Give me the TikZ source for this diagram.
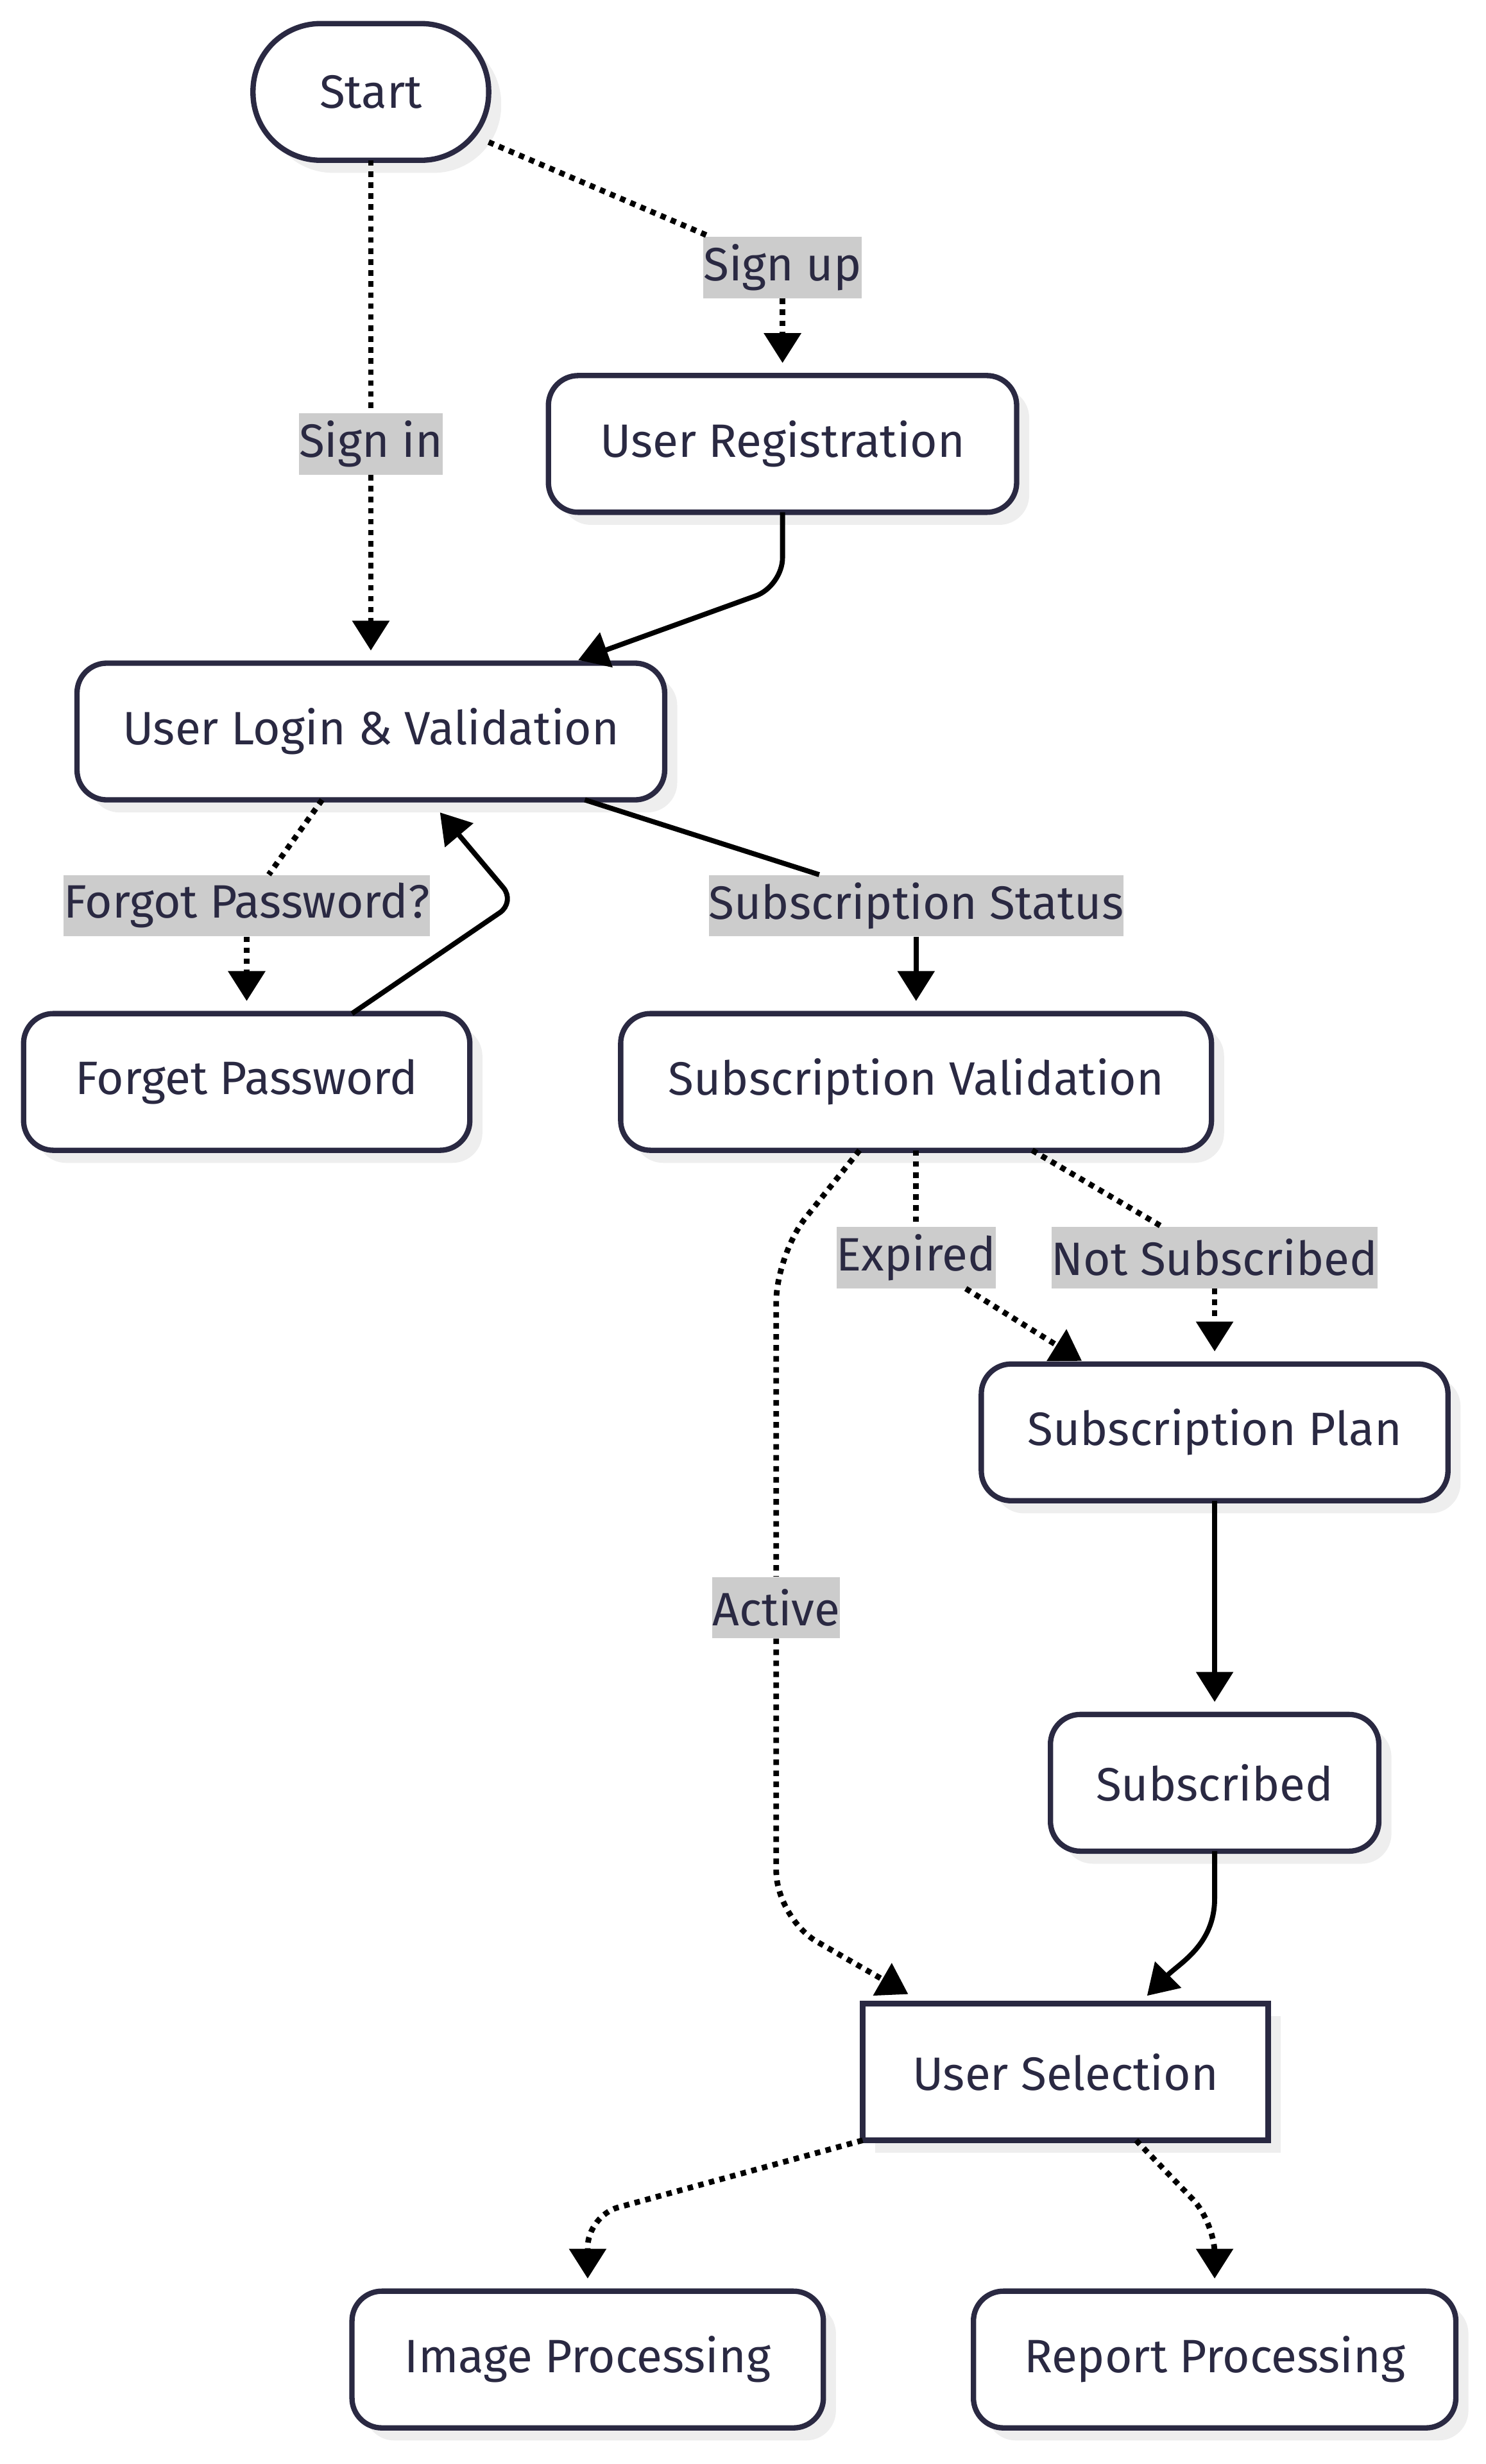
\documentclass[tikz,border=0pt]{standalone}
\usepackage{fontspec}
\setmainfont{Fira Sans}
\usetikzlibrary{positioning,calc,shadows,arrows.meta}

\definecolor{ink}{HTML}{2A2942}
\definecolor{lblgray}{HTML}{CCCCCC}
\definecolor{shade}{HTML}{EEEEEE}
\newcommand{\flowfont}{\fontsize{29.8}{36}\selectfont}

\tikzset{
  base/.style={draw=ink, line width=3.4pt, fill=white, text=ink, outer sep=0pt,
    minimum height=87pt, font=\flowfont,
    drop shadow={shadow xshift=8pt, shadow yshift=-8pt, fill=shade, opacity=1}},
  proc/.style={base, rounded corners=19pt},
  term/.style={base, rounded corners=43pt},
  pick/.style={base},
  lbl/.style={fill=lblgray, text=ink, font=\flowfont, inner xsep=0pt, inner ysep=0pt, minimum height=39pt},
  solidl/.style={black, line width=3.2pt},
  dotl/.style={black, line width=3.6pt, dash pattern=on 3.5pt off 3.5pt},
}

\begin{document}
\begin{tikzpicture}[>={Triangle[length=19pt,width=23pt]}]
    \useasboundingbox (0,0) rectangle (945.3pt,-1568pt);

    \node [term, minimum width=150pt] (start) at (236pt,-58.5pt) {Start};
    \node [proc, minimum width=298pt, below=137pt of start, xshift=262pt] (reg) {User Registration};
    \node [proc, minimum width=374pt, below=320pt of start] (login) {User Login \& Validation};
    \node [proc, minimum width=284pt, below=136pt of login, xshift=-79pt] (forget) {Forget Password};
    \node [proc, minimum width=376pt, below=136pt of login, xshift=347pt] (subval) {Subscription Validation};
    \node [proc, minimum width=297pt, below=136pt of subval, xshift=190pt] (plan) {Subscription Plan};
    \node [proc, minimum width=209pt, below=136pt of plan] (subscribed) {Subscribed};
    \node [pick, minimum width=258pt, below=97pt of subscribed, xshift=-95pt] (usersel) {User Selection};
    \node [proc, minimum width=300pt, below=96pt of usersel, xshift=-304pt] (image) {Image Processing};
    \node [proc, minimum width=307pt, below=96pt of usersel, xshift=95pt] (report) {Report Processing};

    \node [lbl] (signin) at (start |- reg) {Sign in};
    \node [lbl, above=49pt of reg] (signup) {Sign up};
    \node [lbl, above=49pt of forget] (forgot) {Forgot Password?};
    \node [lbl, above=49pt of subval] (status) {Subscription Status};
    \node [lbl, above=48pt of plan] (notsub) {Not Subscribed};
    \node [lbl] (expired) at (subval |- notsub) {Expired};
    \node [lbl] (active) at ($(plan)!.5!(subscribed)+(-279pt,0)$) {Active};

    \draw [dotl] (start) -- (signin);
    \draw [dotl, ->, shorten >=8pt] (signin) -- (login);
    \draw [dotl] (start) -- (signup);
    \draw [dotl, ->, shorten >=8pt] (signup) -- (reg);
    \draw [solidl, ->, rounded corners=18pt] (reg.south) -- ++(0,-47pt) -- ([xshift=132pt,yshift=2pt]login.north);
    \draw [dotl] (login) -- (forgot);
    \draw [dotl, ->, shorten >=8pt] (forgot) -- (forget);
    \draw [solidl, ->, rounded corners=12pt] ([xshift=67pt]forget.north) -- ++(104pt,71pt) -- ([xshift=44pt,yshift=-8pt]login.south);
    \draw [solidl] (login) -- (status);
    \draw [solidl, ->, shorten >=8pt] (status) -- (subval);
    \draw [dotl] (subval) -- (expired);
    \draw [dotl, ->] (expired) -- ([xshift=64pt,yshift=2pt]plan.north west);
    \draw [dotl] (subval) -- (notsub);
    \draw [dotl, ->, shorten >=8pt] (notsub) -- (plan);
    \draw [dotl, rounded corners=30pt] ([xshift=-36pt]subval.south) -- ([yshift=205pt]active.north) -- (active.north);
    \draw [dotl, ->, rounded corners=30pt] (active.south) -- ([yshift=-178pt]active.south) -- ([xshift=-100pt,yshift=6pt]usersel.north);
    \draw [solidl, ->, shorten >=8pt] (plan) -- (subscribed);
    \draw [solidl, ->] (subscribed.south) -- ++(0,-30pt) to[out=-90,in=45] ([xshift=52pt,yshift=5pt]usersel.north);
    \draw [dotl, ->, rounded corners=20pt, shorten >=8pt] (usersel.south west) -- ([yshift=48pt]image.north) -- (image.north);
    \draw [dotl, ->, rounded corners=20pt, shorten >=8pt] ([xshift=45pt]usersel.south) -- ([yshift=44pt]report.north) -- (report.north);
\end{tikzpicture}
\end{document}
